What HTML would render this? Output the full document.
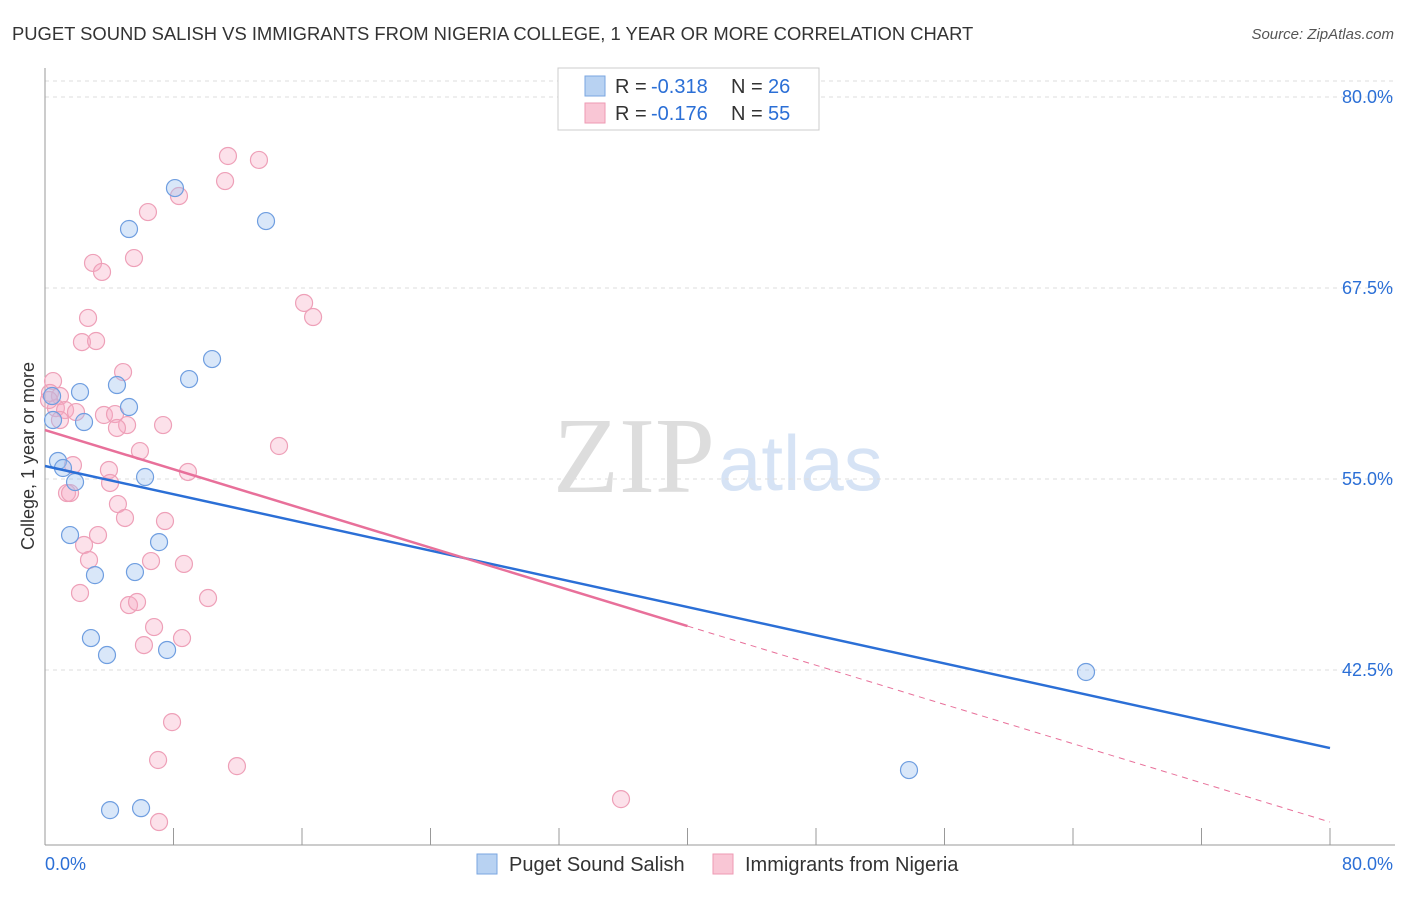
<!DOCTYPE html>
<html><head><meta charset="utf-8"><style>
body{margin:0;background:#fff;font-family:"Liberation Sans",sans-serif}
</style></head><body>
<svg id="c" width="1406" height="892" style="font-family:'Liberation Sans',sans-serif">
<text x="12" y="40" font-size="18.4" fill="#333">PUGET SOUND SALISH VS IMMIGRANTS FROM NIGERIA COLLEGE, 1 YEAR OR MORE CORRELATION CHART</text>
<text x="1394" y="39" font-size="15" fill="#555" text-anchor="end" font-style="italic">Source: ZipAtlas.com</text>
<text x="553" y="492" font-size="108" fill="#ddd" font-family="Liberation Serif">ZIP</text>
<text x="718" y="490" font-size="78" fill="#d6e3f5">atlas</text>
<text transform="translate(34,456) rotate(-90)" font-size="18" fill="#333" text-anchor="middle">College, 1 year or more</text>
<g id="grid"></g><g id="pts"></g><g id="lines"></g>
<g>
<rect x="558" y="68" width="261" height="62" fill="#fff" stroke="#ccc"/>
<rect x="585" y="76" width="20" height="20" fill="#b8d2f2" stroke="#7aa6e0"/>
<rect x="585" y="103" width="20" height="20" fill="#f9c6d5" stroke="#ee9ab3"/>
<text y="93" font-size="20" fill="#333"><tspan x="615">R =</tspan><tspan x="651" fill="#2b6fd6">-0.318</tspan><tspan x="731">N =</tspan><tspan x="768" fill="#2b6fd6">26</tspan></text>
<text y="120" font-size="20" fill="#333"><tspan x="615">R =</tspan><tspan x="651" fill="#2b6fd6">-0.176</tspan><tspan x="731">N =</tspan><tspan x="768" fill="#2b6fd6">55</tspan></text>
</g>
<rect x="477" y="854" width="20" height="20" fill="#b8d2f2" stroke="#7aa6e0"/>
<text x="509" y="871" font-size="20" fill="#333">Puget Sound Salish</text>
<rect x="713" y="854" width="20" height="20" fill="#f9c6d5" stroke="#ee9ab3"/>
<text x="745" y="871" font-size="20" fill="#333">Immigrants from Nigeria</text>
</svg>
<script>
const yTicks=[80,67.5,55,42.5];
const xTickLabels=["0.0%","80.0%"];
const blueX=[8.09,5.23,13.76,10.40,8.97,2.18,4.48,5.23,2.43,0.44,0.50,0.81,1.12,1.87,6.23,1.56,7.10,3.11,5.60,2.86,3.86,7.60,4.05,5.98,64.81,53.79];
const blueY=[74.04,71.36,71.88,62.85,61.54,60.69,61.15,59.71,58.73,60.43,58.86,56.18,55.72,54.80,55.13,51.33,50.87,48.71,48.91,44.59,43.48,43.81,33.33,33.46,42.37,35.95];
const pinkX=[11.39,13.32,11.21,8.34,6.41,5.54,2.99,3.55,16.13,16.69,2.68,2.30,3.18,4.86,0.50,0.31,0.93,0.68,1.25,1.93,3.67,4.36,5.11,4.48,7.35,5.91,14.57,1.74,3.98,8.90,4.05,1.37,1.56,4.54,4.98,7.47,3.30,2.43,2.74,6.60,8.65,2.18,10.15,5.23,5.73,6.79,6.16,8.53,7.91,7.04,11.95,7.10,35.86,0.25,0.93];
const pinkY=[76.14,75.88,74.50,73.52,72.47,69.46,69.14,68.55,66.52,65.60,65.54,63.96,64.03,62.00,61.41,60.63,60.43,59.64,59.51,59.38,59.19,59.25,58.53,58.34,58.53,56.83,57.16,55.91,55.59,55.46,54.74,54.08,54.08,53.36,52.45,52.25,51.33,50.68,49.70,49.63,49.44,47.54,47.21,46.75,46.95,45.31,44.13,44.59,39.09,36.61,36.21,32.55,34.05,60.17,58.86];
const blueTrend=[55.85,37.39];
const pinkTrend=[58.2,32.55];
const pinkSolidEnd=40;
const NS="http://www.w3.org/2000/svg";
const sx=v=>45+v/80*1285, sy=v=>97+(80-v)*15.28;
function mk(tag,attrs,parent){const e=document.createElementNS(NS,tag);for(const k in attrs)e.setAttribute(k,attrs[k]);parent.appendChild(e);return e;}
const grid=document.getElementById('grid');
yTicks.forEach(t=>{
 const l=mk('line',{x1:45,x2:1395,y1:sy(t),y2:sy(t),stroke:'#ddd','stroke-dasharray':'4,4'},grid);
 
 
 const tx=mk('text',{x:1393,y:sy(t)+6,'font-size':18,fill:'#2b6fd6','text-anchor':'end'},grid);
 tx.textContent=t.toFixed(1)+'%';
 
 
});
mk('line',{x1:45,x2:1395,y1:sy(80)-16,y2:sy(80)-16,stroke:'#ddd','stroke-dasharray':'4,4'},grid);
const ax=mk('line',{x1:45,x2:1395,y1:845,y2:845,stroke:'#999'},grid);


const ay=mk('line',{x1:45,x2:45,y1:68,y2:845,stroke:'#999'},grid);


for(let i=0;i<=10;i++){const t=mk('line',{x1:sx(i*8),x2:sx(i*8),y1:828,y2:845,stroke:'#999'},grid);
 
 }
[[0,'start',45],[80,'end',1393]].forEach((d,i)=>{const t=mk('text',{x:d[2],y:870,'font-size':18,fill:'#2b6fd6','text-anchor':d[1]},grid);t.textContent=xTickLabels[i];
 
 });
const pts=document.getElementById('pts');
pinkX.forEach((x,i)=>{const c=mk('circle',{cx:sx(x),cy:sy(pinkY[i]),r:8.5,fill:'rgba(245,170,195,0.35)',stroke:'#eea0b8','stroke-width':1.2},pts);
 
 });
blueX.forEach((x,i)=>{const c=mk('circle',{cx:sx(x),cy:sy(blueY[i]),r:8.5,fill:'rgba(160,195,240,0.4)',stroke:'#6f9ee0','stroke-width':1.2},pts);
 
 });
const lines=document.getElementById('lines');
const py=x=>pinkTrend[0]+(pinkTrend[1]-pinkTrend[0])*x/80;
const b=mk('line',{x1:sx(0),y1:sy(blueTrend[0]),x2:sx(80),y2:sy(blueTrend[1]),stroke:'#2b6fd6','stroke-width':2.5},lines);


const p1=mk('line',{x1:sx(0),y1:sy(py(0)),x2:sx(pinkSolidEnd),y2:sy(py(pinkSolidEnd)),stroke:'#e8709a','stroke-width':2.5},lines);


const p2=mk('line',{x1:sx(pinkSolidEnd),y1:sy(py(pinkSolidEnd)),x2:sx(80),y2:sy(py(80)),stroke:'#e8709a','stroke-width':1,'stroke-dasharray':'6,5'},lines);


</script>
</body></html>
